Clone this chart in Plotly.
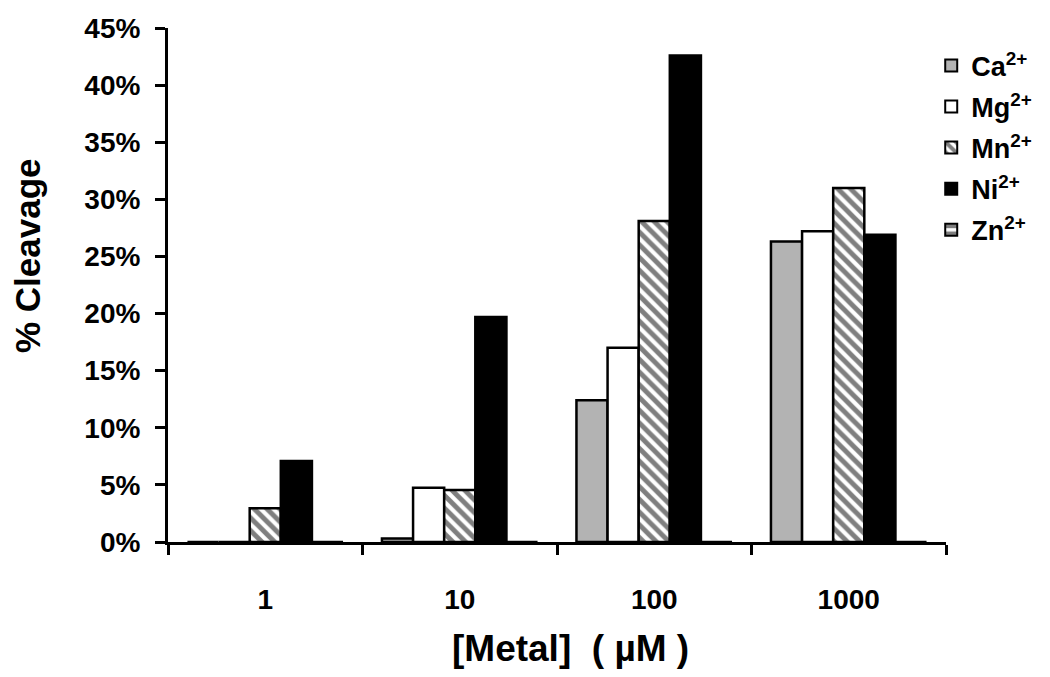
import plotly.graph_objects as go

categories = ["1", "10", "100", "1000"]
ca = [0.0, 0.003, 0.124, 0.263]
mg = [0.0, 0.0475, 0.170, 0.272]
mn = [0.0295, 0.0455, 0.281, 0.310]
ni = [0.071, 0.197, 0.426, 0.269]
zn = [0.0, 0.0, 0.0, 0.0]

series = [
    ("Ca<sup>2+</sup>", ca, "#b3b3b3", ""),
    ("Mg<sup>2+</sup>", mg, "#ffffff", ""),
    ("Mn<sup>2+</sup>", mn, "#ffffff", "\\"),
    ("Ni<sup>2+</sup>", ni, "#000000", ""),
    ("Zn<sup>2+</sup>", zn, "#ffffff", "-"),
]

fig = go.Figure()
for i, (name, vals, color, shape) in enumerate(series):
    marker = dict(color=color, line=dict(color="black", width=2.5))
    if shape:
        marker["pattern"] = dict(shape=shape, fgcolor="black", bgcolor="white",
                                 size=9, solidity=0.55, fillmode="overlay")
    fig.add_trace(go.Bar(name=name, x=categories, y=vals, marker=marker,
                         legendgroup=f"g{i}"))

font_family = "Liberation Sans, Arial, sans-serif"
fig.update_layout(
    width=1050, height=677,
    barmode="group", bargap=0.2, bargroupgap=0,
    plot_bgcolor="white", paper_bgcolor="white",
    margin=dict(l=160, r=112, t=20, b=143, autoexpand=False),
    font=dict(family=font_family, color="black", size=27),
    showlegend=True,
    legend=dict(x=0.981, y=0.974, xanchor="left", yanchor="top",
                font=dict(size=27, family=font_family, weight="bold"),
                itemsizing="constant", tracegroupgap=3, bgcolor="rgba(0,0,0,0)"),
    xaxis=dict(
        type="category", tickson="boundaries", ticks="outside", ticklen=10,
        tickwidth=3, tickcolor="black", showline=True, linecolor="black",
        linewidth=3, showgrid=False, ticklabelstandoff=30,
        tickfont=dict(size=28, family=font_family, weight="bold"),
    ),
    yaxis=dict(
        range=[0, 0.45], tickvals=[i * 0.05 for i in range(10)],
        tickformat=".0%", ticks="outside", ticklen=10, tickwidth=3,
        tickcolor="black", showline=True, linecolor="black", linewidth=3,
        showgrid=False, zeroline=False, ticklabelstandoff=9,
        tickfont=dict(size=28, family=font_family, weight="bold"),
    ),
    annotations=[
        dict(text="% Cleavage", textangle=-90, xref="paper", yref="paper",
             x=-0.1812, y=0.5564, xanchor="center", yanchor="middle",
             showarrow=False, font=dict(size=35, family=font_family, weight="bold")),
        dict(text="[Metal]  ( µM )", xref="paper", yref="paper",
             x=0.517, y=-0.208, xanchor="center", yanchor="middle",
             showarrow=False, font=dict(size=37, family=font_family, weight="bold")),
    ],
)

fig.write_html("out.html")
